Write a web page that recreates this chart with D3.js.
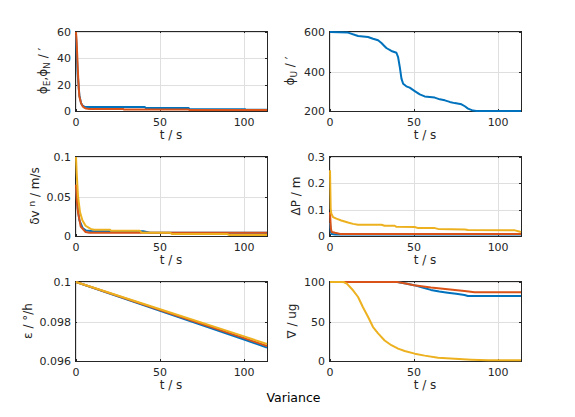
<!DOCTYPE html>
<html><head><meta charset="utf-8">
<script src="https://cdn.jsdelivr.net/npm/d3@7"></script>
<style>
body{margin:0;background:#fff;}
svg{display:block;font-family:"DejaVu Sans",sans-serif;}
</style></head>
<body><svg id="c" width="575" height="417"></svg>
<script>
// ---------- data ----------
const xTicks = [0, 50, 100];
const xMax = 113.6;
const colors = ["#0072BD", "#D95319", "#EDB120"];

// panel 1: phi_E, phi_N
const p1BlueT = [0,0.5,1,2,3,4,5,7,41,41.5,67,67.5,100.5,101,113.6];
const p1BlueV = [58,42,28,12,6,4,3.3,3.0,3.0,2.3,2.3,1.4,1.4,0.9,0.9];
const p1OrangeT = [0,0.4,0.8,1.2,1.6,2,3,4,5,6,8,28,28.5,67,67.5,113.6];
const p1OrangeV = [60,52,40,28,18,11,6,3.5,2.4,1.9,1.6,1.6,1.1,1.1,0.7,0.7];
const p1YTicks = [0, 20, 40, 60];
const p1YLabels = ["0", "20", "40", "60"];

// panel 2: phi_U
const p2BlueT = [0,10.7,16.7,22.6,25.6,28.6,30.6,33.5,36.5,39.5,40.5,41.5,42.5,43.5,45.4,47.4,50.4,53.4,56.3,59.3,62.3,65.3,68.3,71.2,74.2,78.2,80.2,82.1,85.1,87.1,113.6];
const p2BlueV = [600,597,580,575,566,558,544,519,504,495,473,423,364,338,325,318,301,284,274,271,268,259,254,246,240,234,224,212,202,200,200];
const p2YTicks = [200, 400, 600];
const p2YLabels = ["200", "400", "600"];

// panel 3: delta v^n
const p3BlueT = [0,1,2,4,6,10,40,44,113.6];
const p3BlueV = [0.06,0.035,0.02,0.01,0.007,0.006,0.006,0.004,0.004];
const p3OrangeT = [0,0.5,1.2,2.8,5.7,8,113.6];
const p3OrangeV = [0.065,0.045,0.03,0.012,0.005,0.004,0.004];
const p3YellowT = [0,0.4,1.2,2.4,3.8,5.7,8.7,10.7,20,21,38,39,56,57,90,91,113.6];
const p3YellowV = [0.1,0.08,0.05,0.03,0.02,0.013,0.009,0.008,0.008,0.0065,0.0065,0.0042,0.0042,0.0025,0.0025,0.0013,0.0013];
const p3YTicks = [0, 0.05, 0.1];
const p3YLabels = ["0", "0.05", "0.1"];

// panel 4: delta P
const p4BlueT = [0,0.5,1,3,113.6];
const p4BlueV = [0.05,0.015,0.008,0.006,0.006];
const p4OrangeT = [0,0.5,1,3,6,113.6];
const p4OrangeV = [0.09,0.03,0.015,0.012,0.008,0.008];
const p4YellowT = [0,0.4,0.8,1.8,3.8,6.7,10.7,13.7,16.7,30.6,32.5,38.5,39.5,50.4,52.4,62.3,64.3,80.2,82.1,110,113.6];
const p4YellowV = [0.25,0.104,0.085,0.072,0.066,0.059,0.051,0.046,0.043,0.043,0.039,0.039,0.035,0.034,0.030,0.030,0.027,0.025,0.023,0.0215,0.015];
const p4YTicks = [0, 0.1, 0.2, 0.3];
const p4YLabels = ["0", "0.1", "0.2", "0.3"];

// panel 5: epsilon
const p5T = [0, 50, 100, 113.6];
const p5BlueV = [0.1, 0.098544, 0.097088, 0.09668];
const p5OrangeV = [0.1, 0.098579, 0.097158, 0.09676];
const p5YellowV = [0.1, 0.098623, 0.097246, 0.09686];
const p5YTicks = [0.096, 0.098, 0.1];
const p5YLabels = ["0.096", "0.098", "0.1"];

// panel 6: nabla
const p6BlueT = [0,40,45,50,55,60,65,70,75,80,82,113.6];
const p6BlueV = [100,100,98,96,93,90,88,86.5,85,83.5,82.3,82.3];
const p6OrangeT = [0,40,45,50,60,70,80,86,113.6];
const p6OrangeV = [100,100,98,96,93,90.7,88.6,87,87];
const p6YellowT = [0,8,10,13.7,16.7,19.6,22.6,25.6,28.6,32.5,36.5,40.5,44.4,50.4,56.3,64.3,74.2,84,94,113.6];
const p6YellowV = [100,100,98,89.5,81,68,56,43,35,26,20,15.6,12.7,9.3,6.8,4.2,3,1.7,0.8,0.8];
const p6YTicks = [0, 50, 100];
const p6YLabels = ["0", "50", "100"];

// ---------- layout ----------
const W = 192, H = 80;
const colX = [75, 329], rowY = [31, 156, 281];
const ink = "#262626", gridC = "#dfdfdf";

const panels = [
  {c:0,r:0, y:[0,60], yt:p1YTicks, yl:p1YLabels, label:[["ϕ",""],["E","sub"],[",ϕ",""],["N","sub"],[" / ′",""]],
   series:[[p1BlueT,p1BlueV],[p1OrangeT,p1OrangeV]]},
  {c:1,r:0, y:[200,600], yt:p2YTicks, yl:p2YLabels, label:[["ϕ",""],["U","sub"],[" / ′",""]],
   series:[[p2BlueT,p2BlueV]]},
  {c:0,r:1, y:[0,0.1], yt:p3YTicks, yl:p3YLabels, label:[["δv ",""],["n","sup"],[" / m/s",""]],
   series:[[p3BlueT,p3BlueV],[p3OrangeT,p3OrangeV],[p3YellowT,p3YellowV]]},
  {c:1,r:1, y:[0,0.3], yt:p4YTicks, yl:p4YLabels, label:[["ΔP / m",""]],
   series:[[p4BlueT,p4BlueV],[p4OrangeT,p4OrangeV],[p4YellowT,p4YellowV]]},
  {c:0,r:2, y:[0.096,0.1], yt:p5YTicks, yl:p5YLabels, label:[["ε / °/h",""]],
   series:[[p5T,p5BlueV],[p5T,p5OrangeV],[p5T,p5YellowV]]},
  {c:1,r:2, y:[0,100], yt:p6YTicks, yl:p6YLabels, label:[["∇ / ug",""]],
   series:[[p6BlueT,p6BlueV],[p6OrangeT,p6OrangeV],[p6YellowT,p6YellowV]]},
];

const svg = d3.select("#c");
const defs = svg.append("defs");

panels.forEach((p, i) => {
  const L = colX[p.c], T = rowY[p.r];
  const x = d3.scaleLinear().domain([0, xMax]).range([L + 1, L + W]);
  const y = d3.scaleLinear().domain(p.y).range([T + H, T + 1]);
  const g = svg.append("g");

  // grid
  g.selectAll(".gx").data(xTicks).join("line")
    .attr("x1", d => Math.round(x(d)) + 0.5).attr("x2", d => Math.round(x(d)) + 0.5)
    .attr("y1", T).attr("y2", T + H).attr("stroke", gridC).attr("stroke-width", 1);
  g.selectAll(".gy").data(p.yt).join("line")
    .attr("y1", d => Math.round(y(d)) + 0.5).attr("y2", d => Math.round(y(d)) + 0.5)
    .attr("x1", L).attr("x2", L + W).attr("stroke", gridC).attr("stroke-width", 1);

  // ticks (inward, mirrored)
  const tl = 2;
  xTicks.forEach(d => {
    const xx = Math.round(x(d)) + 0.5;
    g.append("line").attr("x1", xx).attr("x2", xx).attr("y1", T + H).attr("y2", T + H - tl).attr("stroke", ink);
    g.append("line").attr("x1", xx).attr("x2", xx).attr("y1", T).attr("y2", T + tl).attr("stroke", ink);
  });
  p.yt.forEach(d => {
    const yy = Math.round(y(d)) + 0.5;
    g.append("line").attr("y1", yy).attr("y2", yy).attr("x1", L).attr("x2", L + tl).attr("stroke", ink);
    g.append("line").attr("y1", yy).attr("y2", yy).attr("x1", L + W).attr("x2", L + W - tl).attr("stroke", ink);
  });

  // box
  g.append("rect").attr("x", L + 0.5).attr("y", T + 0.5).attr("width", W).attr("height", H)
    .attr("fill", "none").attr("stroke", ink).attr("stroke-width", 1);

  // lines (drawn above the box, like the reference)
  defs.append("clipPath").attr("id", "clip" + i).append("rect")
    .attr("x", L).attr("y", T).attr("width", W + 1).attr("height", H + 1);
  const line = d3.line().x(d => x(d[0])).y(d => y(d[1]));
  p.series.forEach((s, k) => {
    const pts = s[0].map((t, j) => [t, s[1][j]]);
    g.append("path").attr("d", line(pts)).attr("fill", "none")
      .attr("stroke", colors[k]).attr("stroke-width", 2)
      .attr("stroke-linejoin", "round")
      .attr("clip-path", `url(#clip${i})`);
  });

  // tick labels
  g.selectAll(".xl").data(xTicks).join("text")
    .attr("x", d => x(d)).attr("y", T + H + 14.5)
    .attr("text-anchor", "middle").attr("font-size", 11).attr("fill", ink).text(d => d);
  let minLeft = L;
  const ylab = g.selectAll(".yl").data(p.yt).join("text")
    .attr("x", L - 4).attr("y", d => y(d) + 4)
    .attr("text-anchor", "end").attr("font-size", 11).attr("fill", ink)
    .text((d, j) => p.yl[j]);
  ylab.each(function() { const b = this.getBBox(); minLeft = Math.min(minLeft, b.x); });

  // x label
  g.append("text").attr("x", L + W / 2).attr("y", T + H + 27.5)
    .attr("text-anchor", "middle").attr("font-size", 12).attr("fill", ink).text("t / s");

  // y label
  const yg = g.append("g");
  const yt = yg.append("text").attr("text-anchor", "middle").attr("font-size", 12).attr("fill", ink);
  p.label.forEach(([txt, kind]) => {
    const ts = yt.append("tspan").text(txt);
    if (kind === "sub") ts.attr("baseline-shift", "-30%").attr("font-size", 9);
    if (kind === "sup") ts.attr("baseline-shift", "40%").attr("font-size", 9);
  });
  const bb = yt.node().getBBox();
  const xpos = minLeft - 5 - (bb.y + bb.height);
  yg.attr("transform", `translate(${xpos},${T + H / 2}) rotate(-90)`);
});

svg.append("text").attr("x", 293.5).attr("y", 402).attr("text-anchor", "middle")
  .attr("font-size", 12.5).attr("fill", "#000").text("Variance");
</script>
</body></html>
